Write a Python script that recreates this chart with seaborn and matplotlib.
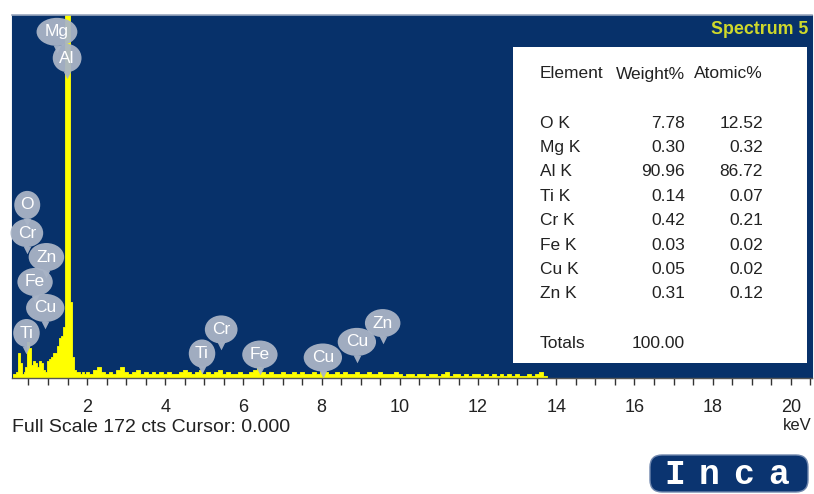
import numpy as np
import pandas as pd
import matplotlib
matplotlib.use("Agg")
import matplotlib.pyplot as plt
from matplotlib.patches import Rectangle, FancyBboxPatch
from matplotlib.ticker import MultipleLocator
import seaborn as sns

# ---------------------------------------------------------------- data
# EDS spectrum, low-energy part sampled every 0.05 keV
low_energy_keV = np.round(np.arange(0.10, 1.96, 0.05), 2)
low_counts = [2, 2, 3, 12, 7, 2, 3, 5, 17, 14,
              6, 8, 7, 5, 8, 7, 4, 3,
              8, 9, 10, 12, 12, 15, 19, 20, 24,
              250, 420, 180, 36,
              10, 4, 3, 3, 2, 3, 2]

# remainder of the spectrum sampled every 0.1 keV
high_energy_keV = np.round(np.arange(2.0, 13.75, 0.1), 1)
high_counts = [3, 2, 4, 5, 3, 2, 3, 2, 4, 5,
               3, 2, 3, 4, 2, 3, 2, 3, 2, 3,
               2, 3, 2, 2, 3, 4, 3, 2, 3, 4,
               2, 3, 2, 3, 4, 2, 3, 2, 2, 3,
               2, 2, 3, 4, 5, 3, 2, 3, 2, 2,
               3, 2, 2, 3, 2, 3, 2, 2, 3, 2,
               3, 3, 2, 2, 3, 2, 3, 2, 2, 3,
               2, 2, 3, 2, 2, 3, 2, 2, 2, 3,
               2, 1, 2, 2, 1, 2, 2, 1, 2, 2,
               1, 2, 3, 1, 2, 2, 1, 2, 1, 2,
               2, 1, 2, 1, 2, 1, 2, 1, 2, 1,
               2, 1, 1, 2, 1, 2, 3, 1]

full_scale_cts = 172

# quantification table
elements = ["O K", "Mg K", "Al K", "Ti K", "Cr K", "Fe K", "Cu K", "Zn K"]
weight_pct = ["7.78", "0.30", "90.96", "0.14", "0.42", "0.03", "0.05", "0.31"]
atomic_pct = ["12.52", "0.32", "86.72", "0.07", "0.21", "0.02", "0.02", "0.12"]
total_weight = "100.00"

# peak marker labels (energy keV, counts at bubble centre)
marker_labels = ["Mg", "Al", "O", "Cr", "Zn", "Fe", "Cu", "Ti",
                 "Ti", "Cr", "Fe", "Cu", "Cu", "Zn"]
marker_keV = [1.23, 1.49, 0.47, 0.46, 0.96, 0.67, 0.93, 0.45,
              4.94, 5.43, 6.42, 8.03, 8.90, 9.56]
marker_cts = [164.0, 151.6, 82.0, 68.7, 57.3, 45.5, 33.2, 21.3,
              11.6, 23.0, 11.1, 9.7, 17.1, 26.0]

# ---------------------------------------------------------------- style
sns.set_style("ticks")
plt.rcParams["font.family"] = ["Liberation Sans", "DejaVu Sans"]

NAVY = "#07316a"
YELLOW = "#ffff00"
BUBBLE = "#a9b4c6"

W, H = 814, 494
fig = plt.figure(figsize=(W / 100, H / 100), dpi=100)


def fx(px):
    return px / W


def fy(py):
    return 1 - py / H


ax = fig.add_axes([fx(12), fy(378), fx(812) - fx(12), fy(15) - fy(378)])
ax.set_facecolor(NAVY)

# ---------------------------------------------------------------- spectrum
energy = np.concatenate([low_energy_keV, high_energy_keV])
counts = np.array(low_counts + high_counts, dtype=float)
mids = (energy[:-1] + energy[1:]) / 2
edges = np.concatenate([[energy[0] - 0.025], mids, [energy[-1] + 0.05]])
spectrum = pd.DataFrame({"energy": energy, "counts": counts})

sns.histplot(data=spectrum, x="energy", weights="counts",
             bins=edges.tolist(), element="step", fill=True,
             color=YELLOW, alpha=1.0, linewidth=0.6, ax=ax, zorder=2)

ax.set_xlim(0.08, 20.54)
ax.set_ylim(0, full_scale_cts)
ax.set_xlabel("")
ax.set_ylabel("")
ax.set_yticks([])

ax.xaxis.set_major_locator(MultipleLocator(2))
ax.xaxis.set_minor_locator(MultipleLocator(0.5))
ax.tick_params(axis="x", which="both", direction="out", length=5, width=1,
               color="#333333", pad=10, labelsize=13, labelcolor="#222222")

for side in ("left", "right"):
    ax.spines[side].set_color(NAVY)
ax.spines["top"].set_color("#9aa7bd")
ax.spines["top"].set_linewidth(1.2)
ax.spines["bottom"].set_color("#555555")
ax.spines["bottom"].set_linewidth(1.0)

# ---------------------------------------------------------------- peak labels
tail_offset = 8.0
for lab, e, c in zip(marker_labels, marker_keV, marker_cts):
    ax.scatter([e], [c - tail_offset], marker="v", s=30, color=BUBBLE,
               alpha=0.95, linewidths=0, zorder=4)
    ax.text(e, c, lab, ha="center", va="center", color="white",
            fontsize=12.5, zorder=5,
            bbox=dict(boxstyle="ellipse,pad=0.14", fc=BUBBLE, ec="none",
                      alpha=0.95))

# ---------------------------------------------------------------- title
fig.text(fx(808), fy(29), "Spectrum 5", ha="right", va="center",
         fontsize=12.8, fontweight="bold", color="#cfd92b")

# ---------------------------------------------------------------- table
fig.add_artist(Rectangle((fx(513), fy(363)), fx(807) - fx(513),
                         fy(47) - fy(363), transform=fig.transFigure,
                         facecolor="white", edgecolor="none", zorder=3))
tkw = dict(fontsize=12.5, color="#222222", va="center", zorder=4)
fig.text(fx(540), fy(74), "Element", ha="left", **tkw)
fig.text(fx(685), fy(74), "Weight%", ha="right", **tkw)
fig.text(fx(763), fy(74), "Atomic%", ha="right", **tkw)
row_y0, row_step = 123, 24.4
for i, (el, wt, at) in enumerate(zip(elements, weight_pct, atomic_pct)):
    y = row_y0 + i * row_step
    fig.text(fx(540), fy(y), el, ha="left", **tkw)
    fig.text(fx(685), fy(y), wt, ha="right", **tkw)
    fig.text(fx(763), fy(y), at, ha="right", **tkw)
fig.text(fx(540), fy(343), "Totals", ha="left", **tkw)
fig.text(fx(685), fy(343), total_weight, ha="right", **tkw)

# ---------------------------------------------------------------- footer
fig.text(fx(12), fy(427), f"Full Scale {full_scale_cts} cts Cursor: 0.000",
         ha="left", va="center", fontsize=14, color="#222222")
fig.text(fx(812), fy(425), "keV", ha="right", va="center",
         fontsize=12, color="#222222")

# INCA badge
fig.add_artist(FancyBboxPatch((6.62, 0.14), 1.34, 0.13,
                              boxstyle="round,pad=0.12",
                              transform=fig.dpi_scale_trans,
                              facecolor="#0b3470", edgecolor="#6f86ad",
                              linewidth=1.0, zorder=3))
for ch, px in zip("Inca", [675, 709, 744, 779]):
    fig.text(fx(px), fy(474), ch, ha="center", va="center",
             fontsize=25, fontweight="bold", color="white",
             family=["Liberation Mono", "DejaVu Sans Mono"], zorder=4)

fig.savefig("out.png", dpi=100)
